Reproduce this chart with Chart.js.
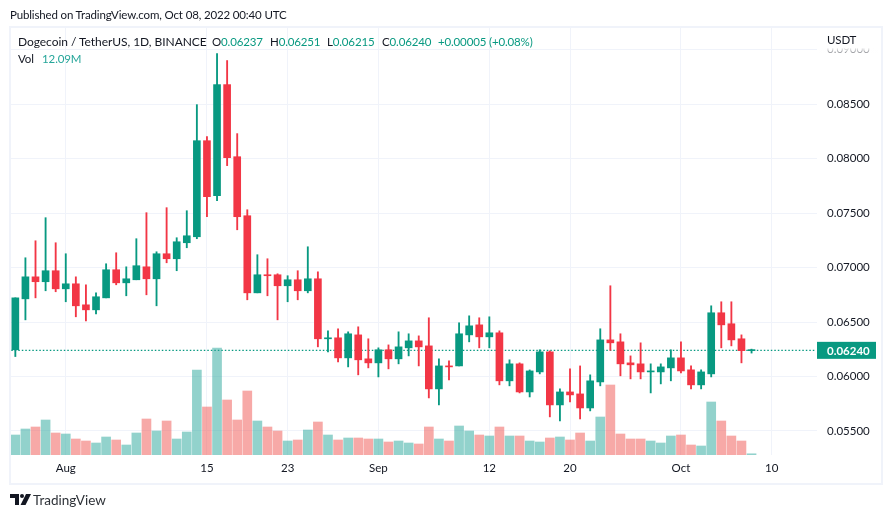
<!DOCTYPE html>
<html>
<head>
<meta charset="utf-8">
<title>DOGEUSDT</title>
<script src="https://cdn.jsdelivr.net/npm/chart.js@4"></script>
<style>
  body { margin: 0; background: #fff; font-family: Lato, sans-serif; color: #131722; }
  #wrap { position: relative; width: 891px; height: 518px; overflow: hidden; }
  canvas { position: absolute; left: 0; top: 0; }
  .txt { position: absolute; white-space: nowrap; font-size: 11.5px; line-height: 14px; letter-spacing: -0.15px; }
  .up { color: #089981; }
  #frame { position: absolute; left: 9px; top: 26px; width: 870px; height: 455px; border: 2px solid #f0f3fa; }
  #unit { position: absolute; left: 819px; top: 28px; width: 60px; height: 25px;
          background: linear-gradient(#fff 78%, rgba(255,255,255,0.5)); }
  #vol span { color: #26a69a; }
</style>
</head>
<body>
<div id="wrap">
  <canvas id="myChart" width="891" height="518"></canvas>
  <div id="frame"></div>
  <div id="unit"></div>
  <div class="txt" style="left:10px;top:8px">Published on TradingView.com, Oct 08, 2022 00:40 UTC</div>
  <div class="txt" style="left:18px;top:35px;font-size:12px;letter-spacing:-0.05px">Dogecoin / TetherUS, 1D, BINANCE</div>
  <div class="txt" style="left:212px;top:35px">O<span class="up">0.06237</span></div>
  <div class="txt" style="left:270px;top:35px">H<span class="up">0.06251</span></div>
  <div class="txt" style="left:327px;top:35px">L<span class="up">0.06215</span></div>
  <div class="txt" style="left:382px;top:35px">C<span class="up">0.06240</span></div>
  <div class="txt up" style="left:438px;top:35px">+0.00005 (+0.08%)</div>
  <div class="txt" id="vol" style="left:18px;top:52px">Vol&nbsp;&nbsp;&nbsp;<span>12.09M</span></div>
  <div class="txt" style="left:827px;top:33px">USDT</div>
  <svg style="position:absolute;left:10px;top:494px" width="21" height="12" viewBox="0 0 21 12">
    <path d="M0 0H9V11H5V4H0Z M16 0H21L15.5 11H10.5Z" fill="#131722"/>
    <circle cx="12" cy="2" r="2" fill="#131722"/>
  </svg>
  <div class="txt" style="left:33px;top:492px;font-size:13.5px;line-height:17px;letter-spacing:0;color:#2e3238">TradingView</div>
</div>
<script>
// daily candles, Jul 27 - Oct 08 2022
const dates = [
  'Jul 27','Jul 28','Jul 29','Jul 30','Jul 31',
  'Aug 1','Aug 2','Aug 3','Aug 4','Aug 5','Aug 6','Aug 7','Aug 8','Aug 9','Aug 10','Aug 11','Aug 12','Aug 13','Aug 14','Aug 15','Aug 16',
  'Aug 17','Aug 18','Aug 19','Aug 20','Aug 21','Aug 22','Aug 23','Aug 24','Aug 25','Aug 26','Aug 27','Aug 28','Aug 29','Aug 30','Aug 31',
  'Sep 1','Sep 2','Sep 3','Sep 4','Sep 5','Sep 6','Sep 7','Sep 8','Sep 9','Sep 10','Sep 11','Sep 12','Sep 13','Sep 14','Sep 15','Sep 16',
  'Sep 17','Sep 18','Sep 19','Sep 20','Sep 21','Sep 22','Sep 23','Sep 24','Sep 25','Sep 26','Sep 27','Sep 28','Sep 29','Sep 30',
  'Oct 1','Oct 2','Oct 3','Oct 4','Oct 5','Oct 6','Oct 7','Oct 8'
];
const opens = [
  0.06245,0.06713,0.06915,0.06870,0.06971,0.06805,0.06851,0.06658,0.06612,0.06722,
  0.06980,0.06860,0.06888,0.07007,0.06897,0.07127,0.07081,0.07228,0.07283,0.08165,
  0.07660,0.08680,0.08018,0.07476,0.06768,0.06934,0.06934,0.06833,0.06888,0.06787,
  0.06897,0.06346,0.06355,0.06171,0.06382,0.06162,0.06125,0.06245,0.06162,0.06263,
  0.06327,0.06281,0.05886,0.06097,0.06097,0.06382,0.06474,0.06364,0.06401,0.05960,
  0.06116,0.05858,0.06042,0.06226,0.05739,0.05858,0.05840,0.05711,0.05950,0.06336,
  0.06318,0.06125,0.06116,0.06042,0.06042,0.06079,0.06171,0.06061,0.05923,0.06024,
  0.06585,0.06484,0.06346,0.06237
];
const highs = [
  0.06722,0.07090,0.07246,0.07458,0.07228,0.07127,0.06915,0.06842,0.06768,0.07035,
  0.07136,0.07007,0.07265,0.07504,0.07145,0.07550,0.07274,0.07522,0.08496,0.08202,
  0.08965,0.08901,0.08230,0.07531,0.07118,0.07081,0.06943,0.06925,0.06971,0.07191,
  0.06961,0.06419,0.06438,0.06410,0.06456,0.06346,0.06263,0.06290,0.06410,0.06392,
  0.06373,0.06539,0.06162,0.06143,0.06493,0.06557,0.06539,0.06548,0.06419,0.06153,
  0.06125,0.06060,0.06245,0.06235,0.05886,0.06070,0.06097,0.06015,0.06438,0.06833,
  0.06392,0.06189,0.06309,0.06116,0.06116,0.06245,0.06318,0.06097,0.06061,0.06649,
  0.06686,0.06686,0.06382,0.06251
];
const lows = [
  0.06183,0.06520,0.06722,0.06787,0.06778,0.06686,0.06548,0.06511,0.06575,0.06722,
  0.06842,0.06741,0.06888,0.06750,0.06649,0.07044,0.06971,0.07182,0.07265,0.07467,
  0.07614,0.07936,0.07347,0.06704,0.06768,0.06741,0.06520,0.06686,0.06704,0.06768,
  0.06272,0.06226,0.06134,0.06088,0.06015,0.06079,0.05996,0.06070,0.06116,0.06189,
  0.06097,0.05803,0.05739,0.05969,0.06097,0.06318,0.06263,0.06263,0.05923,0.05914,
  0.05849,0.05812,0.06024,0.05629,0.05592,0.05767,0.05610,0.05684,0.05914,0.06240,
  0.06006,0.05978,0.05978,0.05849,0.05932,0.05960,0.06033,0.05886,0.05886,0.05996,
  0.06263,0.06281,0.06125,0.06215
];
const closes = [
  0.06722,0.06915,0.06870,0.06971,0.06805,0.06851,0.06649,0.06612,0.06732,0.06980,
  0.06860,0.06897,0.07017,0.06897,0.07127,0.07081,0.07237,0.07292,0.08165,0.07651,
  0.08680,0.08009,0.07467,0.06768,0.06934,0.06925,0.06833,0.06888,0.06787,0.06897,
  0.06346,0.06355,0.06171,0.06392,0.06153,0.06125,0.06245,0.06162,0.06272,0.06327,
  0.06272,0.05886,0.06097,0.06088,0.06392,0.06465,0.06364,0.06401,0.05960,0.06116,
  0.05858,0.06051,0.06226,0.05739,0.05858,0.05831,0.05711,0.05960,0.06336,0.06309,
  0.06116,0.06107,0.06042,0.06051,0.06088,0.06171,0.06051,0.05923,0.06042,0.06585,
  0.06474,0.06336,0.06237,0.06240
];
// volume in millions
const volumes = [
  200,260,280,350,220,210,160,140,120,180,150,100,220,360,240,340,160,230,850,480,
  1070,550,350,640,340,280,240,140,150,250,330,200,150,170,170,160,160,130,140,120,
  110,280,160,140,290,240,200,190,280,190,190,140,130,170,180,150,220,140,380,700,
  210,160,160,140,120,190,200,100,90,530,340,190,140,12.09
];
const tickDays = [5, 19, 27, 36, 47, 55, 66, 75];
const tickLabels = ['Aug', '15', '23', 'Sep', '12', '20', 'Oct', '10'];
const tickPrices = [0.055, 0.06, 0.065, 0.07, 0.075, 0.08, 0.085, 0.09];

const GREEN = '#089981', RED = '#f23645';
const isUp = dates.map((d, i) => closes[i] >= opens[i]);
const candleColors = isUp.map(up => up ? GREEN : RED);
const volColors = isUp.map(up => up ? 'rgba(38,166,154,0.5)' : 'rgba(239,83,80,0.5)');
const lastClose = closes[closes.length - 1];
const font = { family: 'Lato, sans-serif', size: 11.5 };

// last price tag on the axis
const priceTag = {
  id: 'priceTag',
  afterDraw(chart) {
    const c = chart.ctx;
    const y = chart.scales.y.getPixelForValue(lastClose);
    c.save();
    c.fillStyle = GREEN;
    c.fillRect(chart.chartArea.right, y - 8.5, 59, 17);
    c.fillStyle = '#fff';
    c.font = 'bold 11.5px Lato, sans-serif';
    c.textAlign = 'left';
    c.textBaseline = 'middle';
    c.fillText(lastClose.toFixed(5), chart.chartArea.right + 10, y + 0.5);
    c.restore();
  }
};

new Chart(document.getElementById('myChart'), {
  type: 'bar',
  data: {
    datasets: [
      {
        type: 'line',
        data: [{ x: -0.4, y: lastClose }, { x: 79.3, y: lastClose }],
        borderColor: GREEN, borderWidth: 1.4, borderDash: [1.5, 2], pointRadius: 0, order: 5
      },
      {
        data: dates.map((d, i) => ({ x: i, y: [opens[i], closes[i]] })),
        backgroundColor: candleColors, barThickness: 7, minBarLength: 1, order: 2
      },
      {
        data: dates.map((d, i) => ({ x: i, y: [lows[i], highs[i]] })),
        backgroundColor: candleColors, barThickness: 1.2, order: 3
      },
      {
        data: dates.map((d, i) => ({ x: i, y: volumes[i] })),
        backgroundColor: volColors, barThickness: 9, yAxisID: 'vol', order: 4
      }
    ]
  },
  options: {
    responsive: false,
    animation: false,
    layout: { padding: { left: 11, top: 27, right: 10, bottom: 36 } },
    datasets: { bar: { grouped: false } },
    plugins: { legend: { display: false }, tooltip: { enabled: false } },
    scales: {
      x: {
        type: 'linear',
        offset: false,
        min: -0.43,
        max: 79.49,
        afterBuildTicks: s => { s.ticks = tickDays.map(v => ({ value: v })); },
        afterFit: s => { s.height = 27; },
        grid: { color: '#f0f3fa', offset: false, drawTicks: false },
        border: { display: false },
        ticks: {
          font, color: '#131722', padding: 6, maxRotation: 0, autoSkip: false,
          callback: v => tickLabels[tickDays.indexOf(v)]
        }
      },
      y: {
        position: 'right',
        min: 0.05279,
        max: 0.09209,
        afterBuildTicks: s => { s.ticks = tickPrices.map(v => ({ value: v })); },
        afterFit: s => { s.width = 64; },
        grid: { color: '#f0f3fa', drawTicks: false },
        border: { display: false },
        ticks: { font, color: '#131722', padding: 10, callback: v => v.toFixed(5) }
      },
      vol: { display: false, min: 0, max: 4280 }
    }
  },
  plugins: [priceTag]
});
</script>
</body>
</html>
